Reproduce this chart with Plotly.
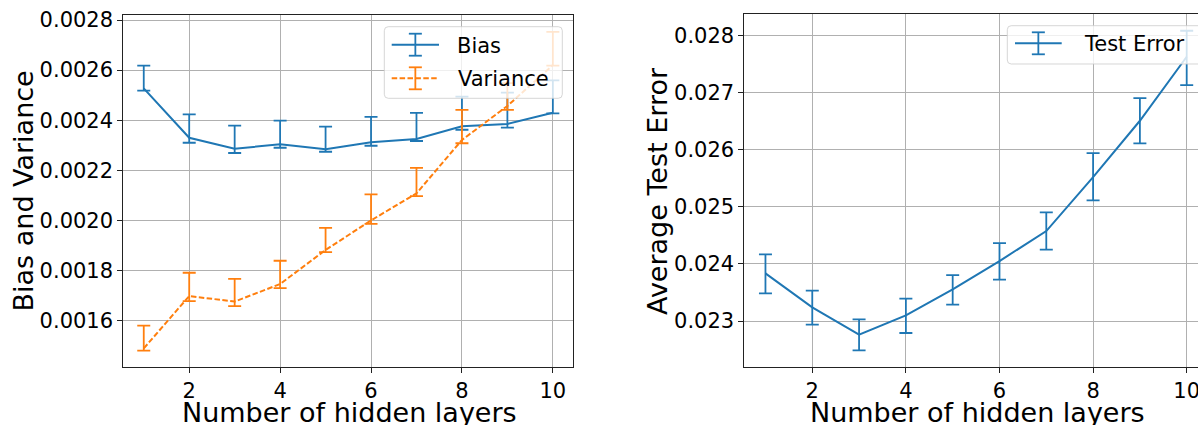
import plotly.graph_objects as go

# ---------------- data ----------------
layers = [1, 2, 3, 4, 5, 6, 7, 8, 9, 10]

bias = [0.002527, 0.002330, 0.002286, 0.002304, 0.002284, 0.002312, 0.002325, 0.002376, 0.002385, 0.002430]
bias_upper = [0.002618, 0.002423, 0.002378, 0.002398, 0.002374, 0.002413, 0.002429, 0.002494, 0.002510, 0.002559]
bias_lower = [0.002518, 0.002310, 0.002269, 0.002290, 0.002274, 0.002298, 0.002317, 0.002362, 0.002370, 0.002427]

variance = [0.001489, 0.001698, 0.001676, 0.001746, 0.001882, 0.002000, 0.002108, 0.002321, 0.002457, 0.002620]
variance_upper = [0.001580, 0.001791, 0.001767, 0.001839, 0.001970, 0.002104, 0.002210, 0.002441, 0.002548, 0.002753]
variance_lower = [0.001480, 0.001678, 0.001658, 0.001730, 0.001873, 0.001986, 0.002097, 0.002308, 0.002441, 0.002618]

test_error = [0.023834, 0.023239, 0.022761, 0.023099, 0.023554, 0.024050, 0.024575, 0.025520, 0.026506, 0.027627]
test_upper = [0.024167, 0.023531, 0.023029, 0.023391, 0.023805, 0.024365, 0.024902, 0.025940, 0.026903, 0.028082]
test_lower = [0.023484, 0.022936, 0.022487, 0.022790, 0.023286, 0.023723, 0.024249, 0.025112, 0.026110, 0.027131]

left_yticks = [0.0016, 0.0018, 0.0020, 0.0022, 0.0024, 0.0026, 0.0028]
right_yticks = [0.023, 0.024, 0.025, 0.026, 0.027, 0.028]
xticks = [2, 4, 6, 8, 10]

x_title = "Number of hidden layers"
left_y_title = "Bias and Variance"
right_y_title = "Average Test Error"

# ---------------- style ----------------
W, H = 1198, 425
BLUE = "#1f77b4"
ORANGE = "#ff7f0e"
FONT = "DejaVu Sans"
TICK_SIZE = 21
LABEL_SIZE = 27


def px(x):
    return x / W


def py(y):
    return 1 - y / H


def up(v, hi):
    return [h - m for m, h in zip(v, hi)]


def down(v, lo):
    return [m - l for m, l in zip(v, lo)]


fig = go.Figure()

fig.add_trace(go.Scatter(
    x=layers, y=bias, mode="lines", name="Bias", showlegend=False,
    line=dict(color=BLUE, width=2),
    error_y=dict(type="data", symmetric=False, array=up(bias, bias_upper),
                 arrayminus=down(bias, bias_lower), color=BLUE, thickness=1.8, width=6.5),
    xaxis="x", yaxis="y"))

fig.add_trace(go.Scatter(
    x=layers, y=variance, mode="lines", name="Variance", showlegend=False,
    line=dict(color=ORANGE, width=2, dash="5.5px,2.4px"),
    error_y=dict(type="data", symmetric=False, array=up(variance, variance_upper),
                 arrayminus=down(variance, variance_lower), color=ORANGE, thickness=1.8, width=6.5),
    xaxis="x", yaxis="y"))

fig.add_trace(go.Scatter(
    x=layers, y=test_error, mode="lines", name="Test Error", showlegend=False,
    line=dict(color=BLUE, width=2),
    error_y=dict(type="data", symmetric=False, array=up(test_error, test_upper),
                 arrayminus=down(test_error, test_lower), color=BLUE, thickness=1.8, width=6.5),
    xaxis="x2", yaxis="y2"))

axis_common = dict(
    showgrid=True, gridcolor="#b0b0b0", gridwidth=1,
    showline=True, linecolor="#222222", linewidth=1,
    ticks="outside", ticklen=5, tickwidth=1, tickcolor="#222222",
    tickfont=dict(family=FONT, size=TICK_SIZE, color="black"),
    zeroline=False, ticklabeloverflow="allow", automargin=False,
)

# left panel geometry (pixels)
L_left, L_right, L_top, L_bottom = 123.3, 573.3, 15.0, 366.7
# right panel geometry
R_left, R_top, R_bottom = 744.4, 14.3, 366.7

fig.update_layout(
    width=W, height=H,
    margin=dict(l=0, r=0, t=0, b=0, autoexpand=False),
    paper_bgcolor="white", plot_bgcolor="white",
    font=dict(family=FONT, color="black"),
    xaxis=dict(axis_common, domain=[px(L_left), px(L_right)], range=[0.55, 10.45],
               tickvals=xticks, mirror=True, anchor="y"),
    yaxis=dict(axis_common, domain=[py(L_bottom), py(L_top)], range=[0.001416, 0.00282],
               tickvals=left_yticks, tickformat=".4f", mirror=True, anchor="x"),
    xaxis2=dict(axis_common, domain=[px(R_left), 1.0], range=[0.55, 10.2415],
                tickvals=xticks, mirror=True, anchor="y2"),
    yaxis2=dict(axis_common, domain=[py(R_bottom), py(R_top)], range=[0.0222, 0.02837],
                tickvals=right_yticks, tickformat=".3f", mirror=False, anchor="x2"),
)

# ---------------- custom legends (matplotlib style with errorbar glyphs) ----------------
shapes = []
annotations = []


def rounded_box(x0, y0, x1, y1, r=4):
    pts = (
        f"M {px(x0 + r)},{py(y0)} L {px(x1 - r)},{py(y0)} "
        f"Q {px(x1)},{py(y0)} {px(x1)},{py(y0 + r)} "
        f"L {px(x1)},{py(y1 - r)} Q {px(x1)},{py(y1)} {px(x1 - r)},{py(y1)} "
        f"L {px(x0 + r)},{py(y1)} Q {px(x0)},{py(y1)} {px(x0)},{py(y1 - r)} "
        f"L {px(x0)},{py(y0 + r)} Q {px(x0)},{py(y0)} {px(x0 + r)},{py(y0)} Z"
    )
    return dict(type="path", path=pts, xref="paper", yref="paper", layer="above",
                fillcolor="rgba(255,255,255,0.8)", line=dict(color="rgba(204,204,204,0.8)", width=1))


def seg(x0, y0, x1, y1, color, width=2, dash="solid"):
    return dict(type="line", xref="paper", yref="paper", layer="above",
                x0=px(x0), y0=py(y0), x1=px(x1), y1=py(y1),
                line=dict(color=color, width=width, dash=dash))


def glyph(xa, xb, yc, color, dash="solid"):
    xm = (xa + xb) / 2
    return [seg(xa, yc, xb, yc, color, 2, dash),
            seg(xm, yc - 11, xm, yc + 11, color, 1.8),
            seg(xm - 6.5, yc - 11, xm + 6.5, yc - 11, color, 1.8),
            seg(xm - 6.5, yc + 11, xm + 6.5, yc + 11, color, 1.8)]


def label(text, x, y, size=TICK_SIZE, angle=0, xanchor="left"):
    return dict(text=text, xref="paper", yref="paper", x=px(x), y=py(y),
                xanchor=xanchor, yanchor="middle", showarrow=False, textangle=angle,
                font=dict(family=FONT, size=size, color="black"))


# axis titles
annotations.append(label(x_title, 349.0, 412.0, size=LABEL_SIZE, xanchor="center"))
annotations.append(label(x_title, 977.5, 412.0, size=LABEL_SIZE, xanchor="center"))
annotations.append(label(left_y_title, 22.5, 191.0, size=LABEL_SIZE, angle=-90, xanchor="center"))
annotations.append(label(right_y_title, 657.0, 191.0, size=LABEL_SIZE, angle=-90, xanchor="center"))

# left legend
shapes.append(rounded_box(384.3, 26.7, 562.3, 98.3))
shapes += glyph(391.7, 439.0, 44.7, BLUE)
shapes += glyph(391.7, 439.0, 78.3, ORANGE, dash="5.5px,2.4px")
annotations.append(label("Bias", 455.0, 45.5))
annotations.append(label("Variance", 456.5, 79.0))

# right legend
shapes.append(rounded_box(1007.3, 25.7, 1202.0, 64.0))
shapes += glyph(1015.0, 1061.7, 43.3, BLUE)
annotations.append(label("Test Error", 1081.5, 44.0))

fig.update_layout(shapes=shapes, annotations=annotations)

fig.write_html("out.html",
               config={"displayModeBar": False},
               post_script="document.body.style.margin='0px';document.body.style.overflow='hidden';")
